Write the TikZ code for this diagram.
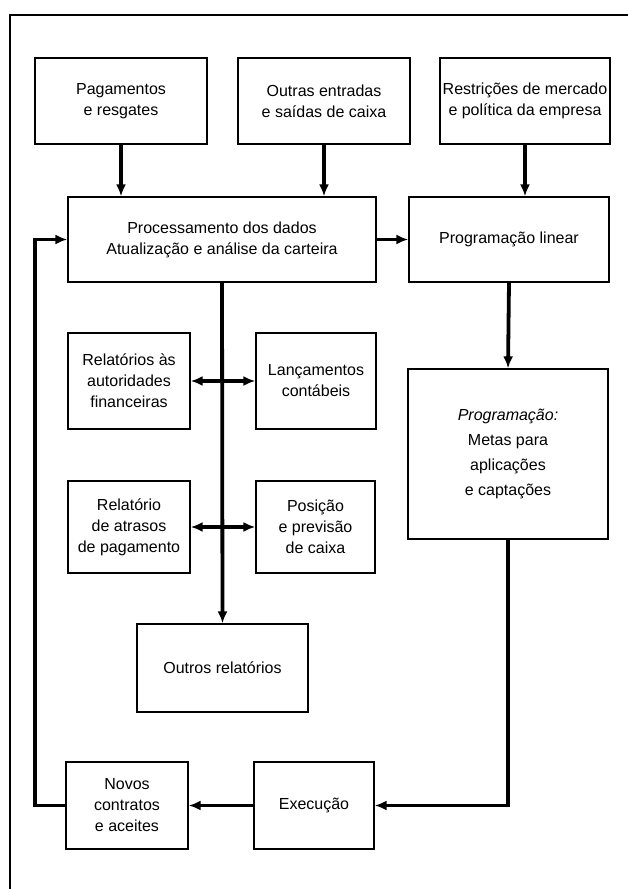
\documentclass[tikz,border=0pt]{standalone}
\usepackage{fontspec}
\setmainfont{Liberation Sans}
\usetikzlibrary{arrows.meta}

\begin{document}
\begin{tikzpicture}[x=1pt, y=-1pt, >={Latex[length=12pt,width=10pt]},
    caixa/.style={draw, line width=1.3pt, align=center, inner sep=2pt, font=\fontsize{16}{21}\selectfont},
    fluxo/.style={line width=3.8pt}]
    \useasboundingbox (0,0) rectangle (628,889);
    \draw[line width=1.8pt] (10,889) -- (10,15) -- (628,15);
    \node[caixa, minimum width=172pt, minimum height=86pt] (pag) at (121,101) {Pagamentos\\e resgates};
    \node[caixa, minimum width=172pt, minimum height=86pt] (outras) at (324,101) {Outras entradas\\e saídas de caixa};
    \node[caixa, minimum width=170pt, minimum height=86pt] (restr) at (525,101) {Restrições de mercado\\e política da empresa};
    \node[caixa, minimum width=308pt, minimum height=85pt] (proc) at (222,239.5) {Processamento dos dados\\Atualização e análise da carteira};
    \node[caixa, minimum width=200pt, minimum height=85pt] (proglin) at (509,239.5) {Programação linear};
    \node[caixa, minimum width=122pt, minimum height=96pt] (relaut) at (129,381) {Relatórios às\\autoridades\\financeiras};
    \node[caixa, minimum width=120pt, minimum height=96pt] (lanc) at (316,381) {Lançamentos\\contábeis};
    \node[caixa, minimum width=122pt, minimum height=92pt] (relatr) at (129,527) {Relatório\\de atrasos\\de pagamento};
    \node[caixa, minimum width=119pt, minimum height=92pt] (pos) at (315.5,527) {Posição\\e previsão\\de caixa};
    \node[caixa, minimum width=200pt, minimum height=170pt, font=\fontsize{16}{25}\selectfont] (prog) at (508,454) {\textit{Programação:}\\Metas para\\aplicações\\e captações};
    \node[caixa, minimum width=171pt, minimum height=88pt] (outros) at (222.5,668) {Outros relatórios};
    \node[caixa, minimum width=122pt, minimum height=87pt] (novos) at (127,805.5) {Novos\\contratos\\e aceites};
    \node[caixa, minimum width=120pt, minimum height=87pt] (exec) at (314,805.5) {Execução};
    \coordinate (volta) at (35,805.5);

    \draw[fluxo, ->] (pag.south) -- (pag.south |- proc.north);
    \draw[fluxo, ->] (outras.south) -- (outras.south |- proc.north);
    \draw[fluxo, ->] (restr.south) -- (restr.south |- proglin.north);
    \draw[fluxo, ->] (proc.east) -- (proglin.west);
    \draw[fluxo, ->] (proc.south) -- (outros.north);
    \draw[fluxo, <->] (relaut.east) -- (lanc.west);
    \draw[fluxo, <->] (relatr.east) -- (pos.west);
    \draw[fluxo, ->] (proglin.south) -- (prog.north);
    \draw[fluxo, ->] (prog.south) |- (exec.east);
    \draw[fluxo, ->] (exec.west) -- (novos.east);
    \draw[fluxo, ->] (novos.west) -- (volta) |- (proc.west);
\end{tikzpicture}
\end{document}
